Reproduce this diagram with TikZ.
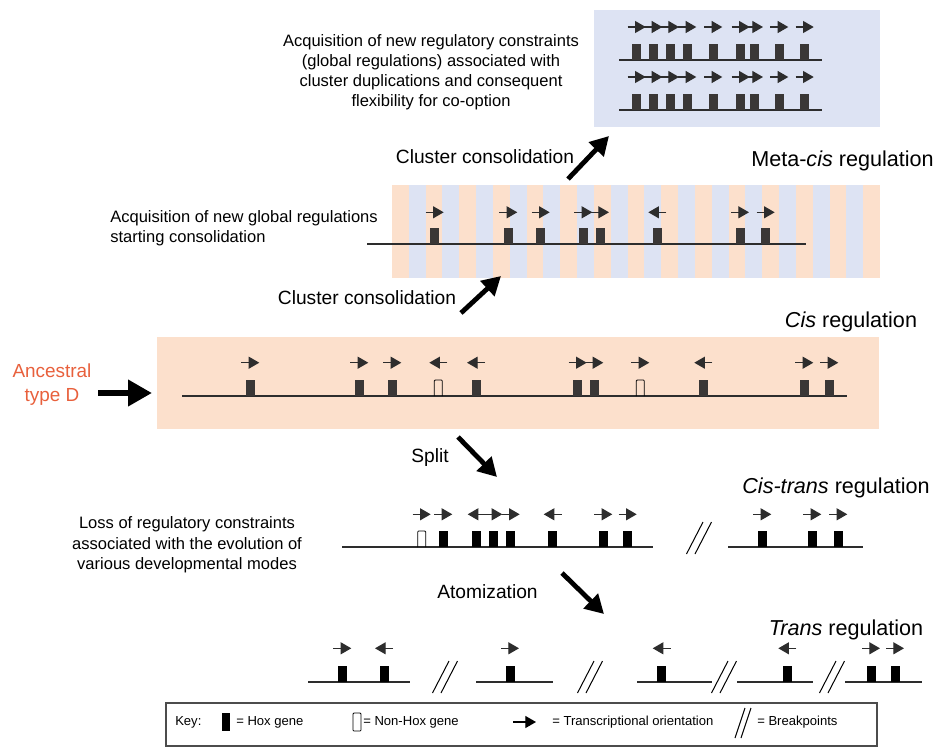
\documentclass[tikz,border=0pt]{standalone}
\usepackage{fontspec}
\setmainfont{Liberation Sans}
\usetikzlibrary{arrows.meta}
\definecolor{orbox}{RGB}{252,224,204}
\definecolor{blbox}{RGB}{221,227,243}
\definecolor{genec}{RGB}{58,55,54}
\definecolor{linec}{RGB}{45,45,45}
\definecolor{ancest}{RGB}{232,96,60}
\tikzset{
  dna/.style={draw=linec, line width=1.1pt},
  orient/.style={draw=linec, line width=0.9pt, -{Triangle[length=8pt,width=9pt]}},
  bigarrow/.style={line width=3.6pt, -{Triangle[length=14pt,width=15pt]}},
  bpline/.style={draw=black, line width=0.75pt},
  desc/.style={inner sep=0pt, font=\fontsize{12.4}{15}\selectfont},
  lbl/.style={inner sep=0pt, font=\fontsize{14.4}{17}\selectfont},
  region/.style={inner sep=0pt, font=\fontsize{16.2}{19}\selectfont},
  keytxt/.style={inner sep=0pt, anchor=west, font=\fontsize{9.8}{11}\selectfont},
}
\newcommand\hox[3]{\fill[#3] (#1-4.5,#2) rectangle (#1+4.5,#2-16.5);}
\newcommand\nonhox[2]{\draw[line width=0.6pt, rounded corners=0.7pt] (#1-4,#2) -- (#1-4,#2-16) -- (#1+4,#2-16) -- (#1+4,#2);}
\newcommand\Rarr[2]{\draw[orient] (#1-9,#2) -- (#1+9,#2);}
\newcommand\Larr[2]{\draw[orient] (#1+9,#2) -- (#1-9,#2);}
\newcommand\brkpt[2]{\draw[bpline] (#1-12.5,#2+16) -- (#1+4,#2-16); \draw[bpline] (#1-4,#2+16) -- (#1+12.5,#2-16);}
\begin{document}
\begin{tikzpicture}[x=0.75pt,y=-0.75pt]
\useasboundingbox (0,0) rectangle (936,747);
% ---------------- top box (meta-cis) ----------------
\fill[blbox] (594,10) rectangle (880,127);
\foreach \ly in {60,110}{
  \draw[dna] (619,\ly) -- (822,\ly);
  \foreach \gx in {636.7,653.3,670,687.3,713.3,740.7,754,779.3,804.7}{
    \hox{\gx}{\ly}{genec}
    \Rarr{\gx}{\ly-33}
  }
}
\node[desc, align=center] (acqtop) at (431,72.5) {Acquisition of new regulatory constraints\\(global regulations) associated with\\cluster duplications and consequent\\flexibility for co-option};
\node[lbl] (cc1) at (485,157) {Cluster consolidation};
\node[region] (metacis) at (842.5,161) {Meta-\textit{cis} regulation};
\draw[bigarrow] (568,179) -- (609,136);
% ---------------- striped box ----------------
\foreach \i in {0,...,28}{
  \ifodd\i \def\sc{blbox}\else\def\sc{orbox}\fi
  \fill[\sc] (392+\i*16.83,185) rectangle (392+\i*16.83+16.83,278);
}
\draw[dna] (367,244) -- (806,244);
\foreach \gx in {434.7,508.3,540.7,583.3,600,740,765.7}{
  \hox{\gx}{244}{genec}
  \Rarr{\gx}{212.3}
}
\hox{657.3}{244}{genec}
\Larr{657.3}{212.3}
\node[desc, align=left, anchor=west] (acqmid) at (110,228.5) {Acquisition of new global regulations\\starting consolidation};
\node[lbl] (cc2) at (367,298) {Cluster consolidation};
\draw[bigarrow] (461,313) -- (501,276);
% ---------------- ancestral (cis) box ----------------
\node[region] (cisreg) at (851,322) {\textit{Cis} regulation};
\fill[orbox] (157,337) rectangle (879,429);
\draw[dna] (182,396) -- (847,396);
\foreach \gx in {250.3,359.3,392.3,577.7,594.3,804.3,829.3}{
  \hox{\gx}{396}{genec}
  \Rarr{\gx}{362.7}
}
\foreach \gx in {476,703.3}{
  \hox{\gx}{396}{genec}
  \Larr{\gx}{362.7}
}
\nonhox{438.3}{396}
\Larr{438.3}{362.7}
\nonhox{640.3}{396}
\Rarr{640.3}{362.7}
\node[inner sep=0pt, align=center, text=ancest, font=\fontsize{14.2}{18}\selectfont] (anc) at (52,385) {Ancestral\\type D};
\draw[line width=4.5pt, -{Triangle[length=18pt,width=19pt]}] (98,393) -- (152,393);
% ---------------- cis-trans ----------------
\node[lbl] (split) at (430,458) {Split};
\draw[bigarrow] (458,437) -- (497,477);
\node[region] (cistrans) at (836,488) {\textit{Cis-trans} regulation};
\node[desc, align=center, font=\fontsize{12.4}{15.4}\selectfont] (loss) at (187,545) {Loss of regulatory constraints\\associated with the evolution of\\various developmental modes};
\draw[dna] (342,547) -- (653,547);
\nonhox{421.7}{547}
\Rarr{421.7}{514.3}
\foreach \gx in {443.3,493.3,510.7,603.3,627.7}{
  \hox{\gx}{547}{black}
  \Rarr{\gx}{514.3}
}
\foreach \gx in {476.7,552.7}{
  \hox{\gx}{547}{black}
  \Larr{\gx}{514.3}
}
\brkpt{699}{538}
\draw[dna] (728,547) -- (863,547);
\foreach \gx in {762.3,812.3,838.3}{
  \hox{\gx}{547}{black}
  \Rarr{\gx}{514.3}
}
% ---------------- trans ----------------
\node[lbl] (atom) at (487.5,592) {Atomization};
\draw[bigarrow] (562,573) -- (604,614);
\node[region] (transreg) at (846,630) {\textit{Trans} regulation};
\draw[dna] (308,682) -- (410,682);
\draw[dna] (476,682) -- (553,682);
\draw[dna] (637,682) -- (712,682);
\draw[dna] (737,682) -- (813,682);
\draw[dna] (845,682) -- (922,682);
\foreach \gx in {342.3,510,871,895}{
  \hox{\gx}{682}{black}
  \Rarr{\gx}{648.3}
}
\foreach \gx in {384,661.7,787.3}{
  \hox{\gx}{682}{black}
  \Larr{\gx}{648.3}
}
\brkpt{445}{677}
\brkpt{590}{677}
\brkpt{724}{677}
\brkpt{832}{677}
% ---------------- key ----------------
\draw[draw=black!70, line width=0.8pt] (166,703) rectangle (877,746);
\node[keytxt] (key) at (175,722) {Key:};
\fill[black] (222,713) rectangle (230,731);
\node[keytxt] (khox) at (236,722) {= Hox gene};
\draw[line width=0.6pt, rounded corners=0.7pt] (353,731) -- (353,713) -- (361,713) -- (361,731) -- cycle;
\node[keytxt] (knon) at (363,722) {= Non-Hox gene};
\draw[orient, draw=black] (513,722) -- (536,722);
\node[keytxt] (korient) at (552,722) {= Transcriptional orientation};
\draw[bpline] (735,738) -- (745,708);
\draw[bpline] (741,738) -- (751,708);
\node[keytxt] (kbreak) at (757,722) {= Breakpoints};
\end{tikzpicture}
\end{document}
